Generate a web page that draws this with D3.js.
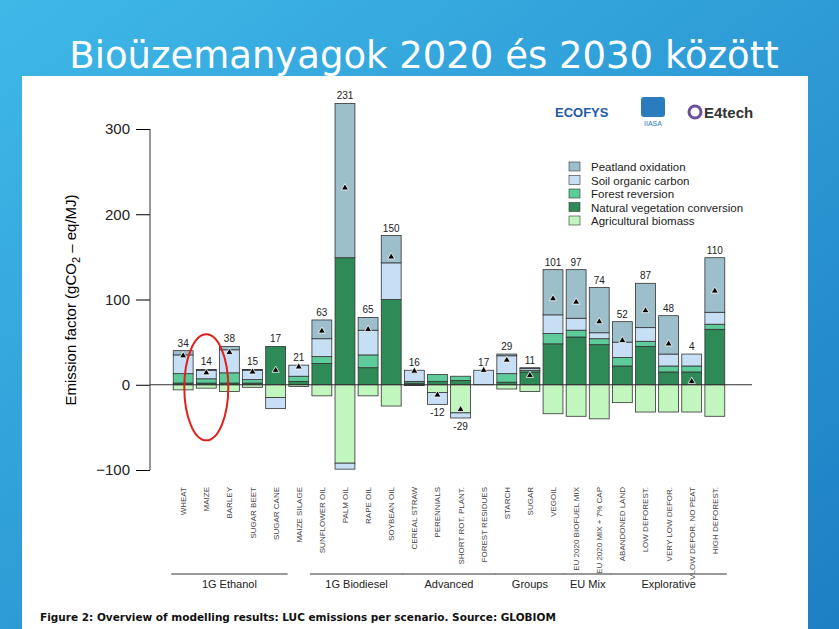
<!DOCTYPE html>
<html><head><meta charset="utf-8">
<script src="https://cdn.jsdelivr.net/npm/d3@7"></script>
<style>body{margin:0;overflow:hidden}</style>
</head><body><svg id="chart" width="839" height="629"></svg>
<script>
var categories = ["WHEAT","MAIZE","BARLEY","SUGAR BEET","SUGAR CANE","MAIZE SILAGE","SUNFLOWER OIL","PALM OIL","RAPE OIL","SOYBEAN OIL","CEREAL STRAW","PERENNIALS","SHORT ROT. PLANT.","FOREST RESIDUES","STARCH","SUGAR","VEGOIL","EU 2020 BIOFUEL MIX","EU 2020 MIX + 7% CAP","ABANDONED LAND","LOW DEFOREST.","VERY LOW DEFOR.","VLOW DEFOR. NO PEAT","HIGH DEFOREST."]
// positive stack, bottom up
var natural  = [2,2,2,2,45,4,25,149,20,100,2,4,5,0,3,15,48,56,47,22,45,15,15,65]
var forest   = [11,5,12,4,0,6,8,0,15,0,2,8,5,0,10,2,12,8,7,10,6,7,7,6]
var soilPos  = [22,10,27,11,0,13,21,0,29,43,13,0,0,17,21,2,22,14,7,18,16,14,14,14]
var peat     = [5,1,4,1,0,0,22,181,15,32,0,0,0,0,2,1,53,57,53,24,52,45,0,64]
// negative stack, from zero down
var agri     = [-6,-4,-8,-3,-15,-2,-13,-92,-13,-25,-1,-9,-33,0,-5,-8,-34,-37,-40,-21,-32,-32,-32,-37]
var soilNeg  = [0,0,0,0,-13,0,0,-7,0,0,0,-14,-6,0,0,0,0,0,0,0,0,0,0,0]
var netLabels = [34,14,38,15,17,21,63,231,65,150,16,-12,-29,17,29,11,101,97,74,52,87,48,4,110]
var groups = [["1G Ethanol",0,4],["1G Biodiesel",6,9],["Advanced",10,13],["Groups",14,16],["EU Mix",17,18],["Explorative",19,23]]
var legendNames = ["Peatland oxidation","Soil organic carbon","Forest reversion","Natural vegetation conversion","Agricultural biomass"]
var yTicks = [-100,0,100,200,300]

var colors = {peat:"#9dbfcb", soil:"#c6dff5", forest:"#5ecb9b", natural:"#2e8b57", agri:"#c1f7bf"}
var svg = d3.select("#chart")

// slide background
var grad = svg.append("defs").append("linearGradient").attr("id","bg").attr("x1",0).attr("x2",1).attr("y1",0).attr("y2",1)
grad.append("stop").attr("offset","0%").attr("stop-color","#3fb8e8")
grad.append("stop").attr("offset","100%").attr("stop-color","#1d7fc4")
svg.append("rect").attr("width",839).attr("height",629).attr("fill","url(#bg)")
svg.append("text").attr("x",424).attr("y",68).attr("text-anchor","middle")
    .attr("fill","white").style("font-family","DejaVu Sans").style("font-size","37px")
    .text("Bioüzemanyagok 2020 és 2030 között")
svg.append("rect").attr("x",22).attr("y",76).attr("width",786).attr("height",553).attr("fill","white")

var x = d3.scaleBand().domain(categories).range([170,728]).padding(0.14)
var y = d3.scaleLinear().domain([-100,300]).range([470,129])

// y axis
var yAxis = svg.append("g").attr("transform","translate(150,0)")
    .call(d3.axisLeft(y).tickValues(yTicks).tickSize(14).tickPadding(6))
yAxis.select(".domain").remove()
yAxis.append("line").attr("y1",y(-100)).attr("y2",y(300)).attr("stroke","#333")
yAxis.selectAll("text").style("font-size","15px").style("font-family","Liberation Sans").attr("fill","#222")
svg.append("text").attr("transform","translate(76,300) rotate(-90)").attr("text-anchor","middle")
    .style("font-size","15px").style("font-family","Liberation Sans")
    .html("Emission factor (gCO<tspan dy='4' font-size='11'>2</tspan><tspan dy='-4'> – eq/MJ)</tspan>")

// stacked bars
var stacks = [["natural",natural],["forest",forest],["soil",soilPos],["peat",peat]]
var bars = svg.append("g")
categories.forEach(function(c,i){
    var base = 0
    stacks.forEach(function(s){
        var v = s[1][i]
        if(v>0){
            bars.append("rect").attr("x",x(c)).attr("width",x.bandwidth())
                .attr("y",y(base+v)).attr("height",y(base)-y(base+v))
                .attr("fill",colors[s[0]]).attr("stroke","#333").attr("stroke-width",0.8)
        }
        base += v
    })
    var nb = 0
    ;[["agri",agri],["soil",soilNeg]].forEach(function(s){
        var v = s[1][i]
        if(v<0){
            bars.append("rect").attr("x",x(c)).attr("width",x.bandwidth())
                .attr("y",y(nb)).attr("height",y(nb+v)-y(nb))
                .attr("fill",colors[s[0]]).attr("stroke","#333").attr("stroke-width",0.8)
        }
        nb += v
    })
    var net = netLabels[i]
    var cx = x(c)+x.bandwidth()/2
    bars.append("path").attr("d",d3.symbol(d3.symbolTriangle,22)())
        .attr("transform","translate("+cx+","+y(net)+")").attr("fill","black").attr("stroke","white").attr("stroke-width",0.8)
    var lab = net<0 ? y(nb)+12 : y(base)-4
    bars.append("text").attr("x",cx).attr("y",lab).attr("text-anchor","middle")
        .style("font-size","10px").style("font-family","Liberation Sans").attr("fill","#222").text(net)
})

// zero line
svg.append("line").attr("x1",150).attr("x2",752).attr("y1",y(0)).attr("y2",y(0)).attr("stroke","#333")

// red highlight around maize
svg.append("ellipse").attr("cx",x("MAIZE")+x.bandwidth()/2).attr("cy",y(-3)).attr("rx",22).attr("ry",53)
    .attr("fill","none").attr("stroke","#e0201b").attr("stroke-width",2)

// category labels
svg.append("g").selectAll("text").data(categories).join("text")
    .attr("transform",function(d){ return "translate("+(x(d)+x.bandwidth()/2+3)+",487) rotate(-90)" })
    .attr("text-anchor","end").style("font-size","8px").style("font-family","Liberation Sans").attr("fill","#444")
    .text(function(d){ return d })

// group lines
groups.forEach(function(g){
    var x0 = x(categories[g[1]])-2, x1 = x(categories[g[2]])+x.bandwidth()+2
    svg.append("line").attr("x1",x0).attr("x2",x1).attr("y1",574).attr("y2",574).attr("stroke","#777").attr("stroke-width",1.5)
    svg.append("text").attr("x",(x0+x1)/2).attr("y",588).attr("text-anchor","middle")
        .style("font-size","11px").style("font-family","Liberation Sans").attr("fill","#222").text(g[0])
})

// legend
var legColors = [colors.peat,colors.soil,colors.forest,colors.natural,colors.agri]
var leg = svg.append("g").attr("transform","translate(569,162)")
legendNames.forEach(function(n,i){
    leg.append("rect").attr("x",0).attr("y",i*13.5).attr("width",11).attr("height",9)
        .attr("fill",legColors[i]).attr("stroke","#333").attr("stroke-width",0.6)
    leg.append("text").attr("x",22).attr("y",i*13.5+9).style("font-size","11.5px")
        .style("font-family","Liberation Sans").attr("fill","#222").text(n)
})

// logos as text
svg.append("text").attr("x",555).attr("y",117).style("font-size","13px").style("font-weight","bold")
    .style("font-family","Liberation Sans").attr("fill","#1d5aa8").text("ECOFYS")
svg.append("rect").attr("x",641).attr("y",97).attr("width",24).attr("height",20).attr("rx",3).attr("fill","#2b7bbf")
svg.append("text").attr("x",653).attr("y",126).attr("text-anchor","middle").style("font-size","7px")
    .style("font-family","Liberation Sans").attr("fill","#2b7bbf").text("IIASA")
svg.append("circle").attr("cx",695).attr("cy",112).attr("r",6).attr("fill","none").attr("stroke","#6b4ea0").attr("stroke-width",3)
svg.append("text").attr("x",704).attr("y",118).style("font-size","15px").style("font-weight","bold")
    .style("font-family","Liberation Sans").attr("fill","#333").text("E4tech")

// caption
svg.append("text").attr("x",40).attr("y",621).style("font-size","10.5px").style("font-weight","bold")
    .style("font-family","DejaVu Sans").attr("fill","#111")
    .text("Figure 2: Overview of modelling results: LUC emissions per scenario. Source: GLOBIOM")
</script></body></html>
